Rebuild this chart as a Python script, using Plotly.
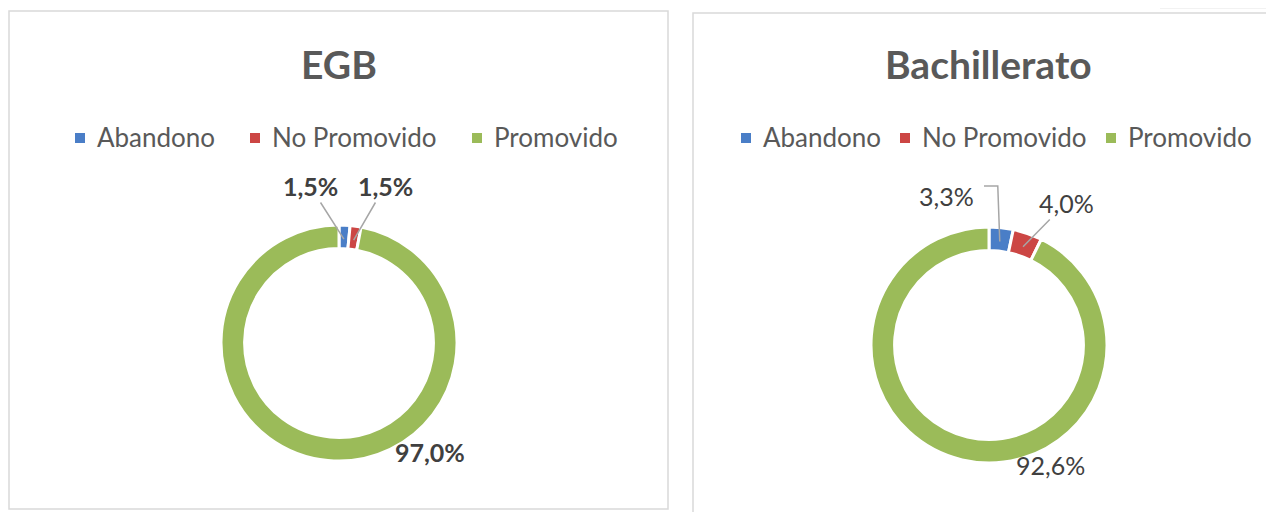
import math

import plotly.graph_objects as go

# ---- data -------------------------------------------------------------
labels = ["Abandono", "No Promovido", "Promovido"]
egb_values = [1.5, 1.5, 97.0]
bach_values = [3.3, 4.0, 92.6]
egb_text = ["1,5%", "1,5%", "97,0%"]
bach_text = ["3,3%", "4,0%", "92,6%"]
colors = ["#4A7EC7", "#CC4644", "#9BBB59"]

# the page body has an 8px margin, so the figure is a bit smaller than the window
OFF = 8
W, H = 1274 - OFF, 512 - OFF
FONT = "Lato, 'Open Sans', sans-serif"
TXT = "#595959"
LBL = "#404040"


def px(x):
    return (x - OFF) / W


def py(y):
    return 1 - (y - OFF) / H


def slice_point(values, i, cx, cy, r):
    """Window-pixel position at the middle of slice i (clockwise from 12 o'clock)."""
    total = sum(values)
    mid = (sum(values[:i]) + values[i] / 2) / total * 2 * math.pi
    return cx + r * math.sin(mid), cy - r * math.cos(mid)


def label(text, x, y, font, **kw):
    return dict(text=text, x=px(x), y=py(y), xref="paper", yref="paper",
                xanchor=kw.pop("xanchor", "center"), yanchor="middle",
                showarrow=False, font=font, **kw)


R = 118
panels = [
    dict(title="EGB", values=egb_values, text=egb_text, cx=339, cy=343,
         legend_x=[75, 250, 472]),
    dict(title="Bachillerato", values=bach_values, text=bach_text, cx=989, cy=345,
         legend_x=[741, 900, 1106]),
]

fig = go.Figure()
annotations = []
shapes = [
    dict(type="rect", xref="paper", yref="paper", x0=px(9), x1=px(668), y0=py(509), y1=py(11),
         line=dict(color="#D9D9D9", width=1.5)),
    dict(type="rect", xref="paper", yref="paper", x0=px(693), x1=px(1290), y0=py(530), y1=py(13),
         line=dict(color="#D9D9D9", width=1.5)),
    dict(type="rect", xref="paper", yref="paper", x0=px(1160), x1=px(1280), y0=py(9), y1=py(8),
         line=dict(width=0), fillcolor="#F2F2F2", layer="below"),
]

for p in panels:
    cx, cy = p["cx"], p["cy"]
    fig.add_trace(go.Pie(
        labels=labels,
        values=p["values"],
        hole=0.8,
        sort=False,
        direction="clockwise",
        rotation=0,
        textinfo="none",
        showlegend=False,
        marker=dict(colors=colors, line=dict(color="white", width=3)),
        domain=dict(x=[px(cx - R), px(cx + R)], y=[py(cy + R), py(cy - R)]),
    ))
    annotations.append(label(f"<b>{p['title']}</b>", cx, 64,
                             dict(family=FONT, size=39, color=TXT)))
    for lx, lab, col in zip(p["legend_x"], labels, colors):
        shapes.append(dict(type="rect", xref="paper", yref="paper",
                           x0=px(lx), x1=px(lx + 10), y0=py(143), y1=py(133),
                           line=dict(width=0), fillcolor=col))
        annotations.append(label(lab, lx + 20, 137, dict(family=FONT, size=26, color=TXT),
                                 xanchor="left"))

lbl_font_b = dict(family=FONT, size=25, color=LBL)
lbl_font = dict(family=FONT, size=25, color=LBL)

# EGB labels
p = panels[0]
for i, (tx, ty) in enumerate([(310, 186), (385, 186)]):
    x0, y0 = slice_point(p["values"], i, p["cx"], p["cy"], 104)
    annotations.append(dict(
        text=f"<b>{p['text'][i]}</b>", x=px(x0), y=py(y0), xref="paper", yref="paper",
        ax=tx - x0, ay=ty - y0, showarrow=True, arrowhead=0, arrowwidth=1.5,
        arrowcolor="#A6A6A6", standoff=0, font=lbl_font_b,
    ))
annotations.append(label(f"<b>{p['text'][2]}</b>", 430, 452, lbl_font_b))

# Bachillerato labels
p = panels[1]
bx, by = slice_point(p["values"], 0, p["cx"], p["cy"], 104)
annotations.append(label(p["text"][0], 946, 196, lbl_font))
shapes.append(dict(type="path", xref="paper", yref="paper",
                   path=f"M {px(984)} {py(186)} L {px(bx - 2)} {py(186)} L {px(bx)} {py(by)}",
                   line=dict(color="#A6A6A6", width=1.5)))
rx, ry = slice_point(p["values"], 1, p["cx"], p["cy"], 104)
annotations.append(dict(
    text=p["text"][1], x=px(rx), y=py(ry), xref="paper", yref="paper",
    ax=1066 - rx, ay=203 - ry, showarrow=True, arrowhead=0, arrowwidth=1.5,
    arrowcolor="#A6A6A6", standoff=0, font=lbl_font,
))
annotations.append(label(p["text"][2], 1050, 465, lbl_font))

fig.update_layout(
    width=W,
    height=H,
    margin=dict(l=0, r=0, t=0, b=0),
    paper_bgcolor="white",
    plot_bgcolor="white",
    annotations=annotations,
    shapes=shapes,
    font=dict(family=FONT),
)
fig.write_html("out.html")
